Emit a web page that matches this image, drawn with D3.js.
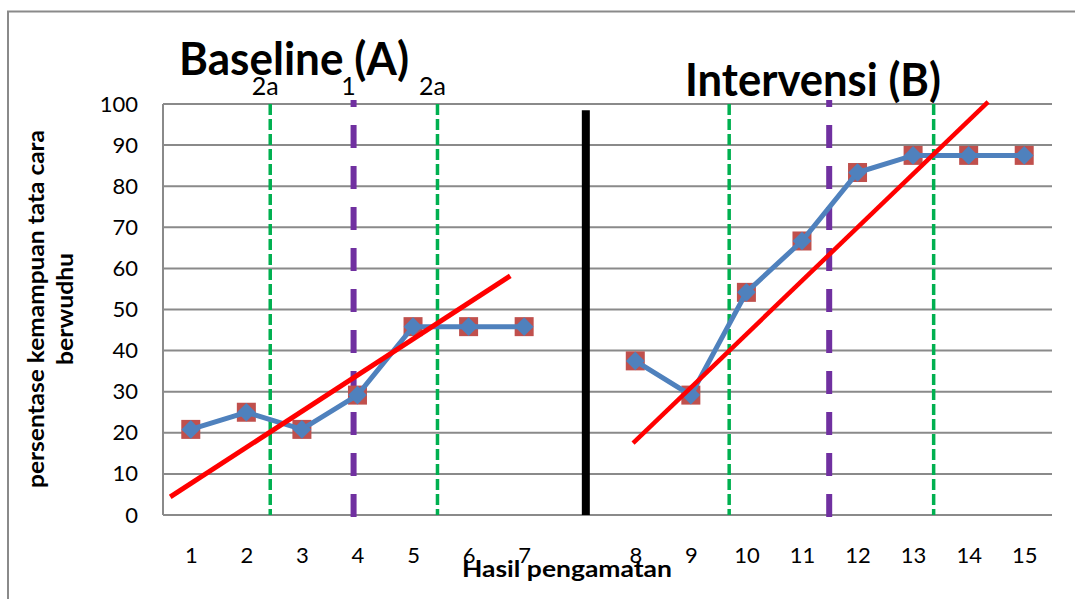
<!DOCTYPE html>
<html>
<head>
<meta charset="utf-8">
<script src="https://cdn.jsdelivr.net/npm/d3@7"></script>
<style>
  html, body { margin: 0; padding: 0; background: #fff; }
  svg { display: block; }
  text { font-family: Lato, "Open Sans", sans-serif; fill: #000; }
</style>
</head>
<body>
<svg id="chart" width="1075" height="599"></svg>
<script>
// ---------- data ----------
const xLabels = ["1","2","3","4","5","6","7","","8","9","10","11","12","13","14","15"];
const scores = [20.83, 25, 20.83, 29.17, 45.83, 45.83, 45.83, null, 37.5, 29.17, 54.17, 66.67, 83.33, 87.5, 87.5, 87.5];
const yTicks = [0,10,20,30,40,50,60,70,80,90,100];
// trend lines (slot units, percent)
const baselineTrendX = [0.63, 6.75];
const baselineTrendY = [4.4, 58.2];
const interventionTrendX = [8.96, 15.35];
const interventionTrendY = [17.5, 100.5];
// phase / criterion lines (slot units)
const greenLines = [2.43, 5.44, 10.69, 14.37];
const purpleLines = [3.93, 12.49];
const phaseChange = 8.11;
const lineLabels = [{slot: 2.43, text: "2a"}, {slot: 3.93, text: "1"}, {slot: 5.44, text: "2a"}];
const titles = ["Baseline (A)", "Intervensi (B)"];
const yTitle = ["persentase kemampuan tata cara", "berwudhu"];
const xTitle = "Hasil pengamatan";

// ---------- layout ----------
(function () {
const svg = d3.select("#chart");
const pLeft = 163, pRight = 1052, pTop = 104, pBottom = 515;
const x = d3.scaleLinear().domain([0.5, xLabels.length + 0.5]).range([pLeft, pRight]);
const y = d3.scaleLinear().domain([0, 100]).range([pBottom, pTop]);
const grey = "#8a8a8a";

// outer chart border
svg.append("path").attr("d", "M8,600 L8,11.5 L1080,11.5")
  .attr("fill", "none").attr("stroke", grey).attr("stroke-width", 2);

// gridlines
svg.append("g").selectAll("line").data(yTicks).join("line")
  .attr("x1", pLeft).attr("x2", pRight)
  .attr("y1", d => y(d)).attr("y2", d => y(d))
  .attr("stroke", grey).attr("stroke-width", 2);
svg.append("line").attr("x1", pLeft).attr("x2", pLeft).attr("y1", y(100)).attr("y2", y(0))
  .attr("stroke", grey).attr("stroke-width", 2);

// y axis labels
const yAxis = d3.axisLeft(y).tickValues(yTicks).tickSize(0).tickPadding(25);
const gy = svg.append("g").attr("transform", `translate(${pLeft},0)`).call(yAxis);
gy.select(".domain").remove();
gy.selectAll("text").attr("font-size", 22).attr("font-family", "Lato, sans-serif").attr("fill", "#000");

// x axis labels
const xAxis = d3.axisBottom(x).tickValues(d3.range(1, xLabels.length + 1))
  .tickFormat(i => xLabels[i - 1]).tickSize(0).tickPadding(32);
const gx = svg.append("g").attr("transform", `translate(0,${pBottom})`).call(xAxis);
gx.select(".domain").remove();
gx.selectAll("text").attr("font-size", 22).attr("font-family", "Lato, sans-serif").attr("fill", "#000");

// phase change line
svg.append("line")
  .attr("x1", x(phaseChange)).attr("x2", x(phaseChange))
  .attr("y1", y(0)).attr("y2", y(98.5))
  .attr("stroke", "#000").attr("stroke-width", 8);

// green dashed lines
svg.append("g").selectAll("line").data(greenLines).join("line")
  .attr("x1", d => x(d)).attr("x2", d => x(d))
  .attr("y1", y(100)).attr("y2", y(0))
  .attr("stroke", "#00B050").attr("stroke-width", 3.5).attr("stroke-dasharray", "11,4");

// purple dashed lines
svg.append("g").selectAll("line").data(purpleLines).join("line")
  .attr("x1", d => x(d)).attr("x2", d => x(d))
  .attr("y1", y(0) + 2).attr("y2", y(101))
  .attr("stroke", "#7030A0").attr("stroke-width", 6).attr("stroke-dasharray", "23,18");

// data points
const pts = scores.map((v, i) => ({slot: i + 1, v})).filter(d => d.v != null);
svg.append("g").selectAll("rect").data(pts).join("rect")
  .attr("x", d => x(d.slot) - 9.5).attr("y", d => y(d.v) - 9.5)
  .attr("width", 19).attr("height", 19).attr("fill", "#C0504D");

const line = d3.line().defined(d => d != null)
  .x((d, i) => x(i + 1)).y(d => y(d));
svg.append("path").datum(scores).attr("d", line)
  .attr("fill", "none").attr("stroke", "#4F81BD").attr("stroke-width", 5);

const diamond = d3.symbol().type(d3.symbolSquare).size(175);
svg.append("g").selectAll("path").data(pts).join("path")
  .attr("d", diamond)
  .attr("transform", d => `translate(${x(d.slot)},${y(d.v)}) rotate(45)`)
  .attr("fill", "#4F81BD");

// trend lines
const trend = d3.line().x(d => x(d[0])).y(d => y(d[1]));
[[baselineTrendX, baselineTrendY, 5], [interventionTrendX, interventionTrendY, 4.5]].forEach(([tx, ty, w]) => {
  svg.append("path").datum(d3.zip(tx, ty)).attr("d", trend)
    .attr("fill", "none").attr("stroke", "#FF0000").attr("stroke-width", w);
});

// labels above lines
svg.append("g").selectAll("text").data(lineLabels).join("text")
  .attr("x", d => x(d.slot) - 5).attr("y", 95)
  .attr("text-anchor", "middle").attr("font-size", 25).text(d => d.text);

// titles
svg.append("text").attr("x", 179).attr("y", 75).attr("font-size", 46).attr("font-weight", "bold")
  .attr("textLength", 230).attr("lengthAdjust", "spacingAndGlyphs").text(titles[0]);
svg.append("text").attr("x", 685).attr("y", 96).attr("font-size", 46).attr("font-weight", "bold")
  .attr("textLength", 256).attr("lengthAdjust", "spacingAndGlyphs").text(titles[1]);

// y axis title
const yt = svg.append("g").attr("transform", "translate(0,309) rotate(-90)");
yt.append("text").attr("x", 0).attr("y", 44).attr("text-anchor", "middle")
  .attr("font-size", 23).attr("font-weight", "bold")
  .attr("textLength", 358).attr("lengthAdjust", "spacingAndGlyphs").text(yTitle[0]);
yt.append("text").attr("x", 0).attr("y", 73).attr("text-anchor", "middle")
  .attr("font-size", 23).attr("font-weight", "bold")
  .attr("textLength", 112).attr("lengthAdjust", "spacingAndGlyphs").text(yTitle[1]);

// x axis title
svg.append("text").attr("x", 567).attr("y", 577).attr("text-anchor", "middle")
  .attr("font-size", 23).attr("font-weight", "bold")
  .attr("textLength", 210).attr("lengthAdjust", "spacingAndGlyphs").text(xTitle);
})();
</script>
</body>
</html>
